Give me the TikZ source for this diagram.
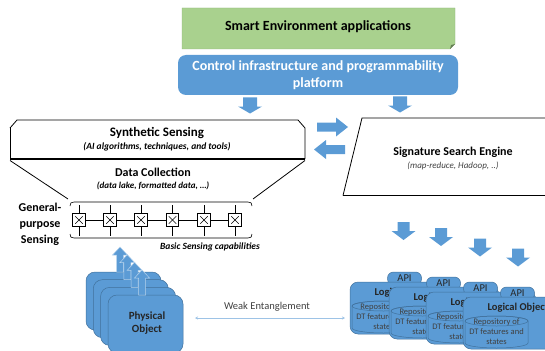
\documentclass[tikz,border=0pt]{standalone}
\usepackage{fontspec}
\setmainfont{Carlito}
\usetikzlibrary{shapes.geometric,calc,arrows.meta}
\definecolor{obl}{HTML}{5B9BD5}
\definecolor{obd}{HTML}{41719C}
\definecolor{ogr}{HTML}{A9D18E}
\definecolor{lbl}{HTML}{9DC3E6}
\definecolor{tgray}{HTML}{404040}
% block arrow: #1 name, #2 cx, #3 cy, #4 rotation, #5 length, #6 shaft half width, #7 head half width, #8 head length, #9 style
\newcommand\BArr[9]{%
  \coordinate (#1) at (#2,#3);
  \begin{scope}[shift={(#2,#3)}, rotate=#4]
    \path[#9] (-0.5*#5pt,#6pt) -- (0.5*#5pt-#8pt,#6pt) -- (0.5*#5pt-#8pt,#7pt) -- (0.5*#5pt,0pt)
      -- (0.5*#5pt-#8pt,-#7pt) -- (0.5*#5pt-#8pt,-#6pt) -- (-0.5*#5pt,-#6pt) -- cycle;
  \end{scope}}
\begin{document}
\begin{tikzpicture}[x=1pt,y=-1pt,
  barrow/.style={fill=obl},
  poarrow/.style={fill=obl, draw=white!55!obl, line width=0.5pt},
  sbox/.style={draw, line width=0.7pt, fill=white, minimum size=12.5pt, inner sep=0pt,
     path picture={\draw[line width=0.6pt] ([shift={(2.5pt,2.5pt)}]path picture bounding box.south west) -- ([shift={(-2.5pt,-2.5pt)}]path picture bounding box.north east);
                   \draw[line width=0.6pt] ([shift={(2.5pt,-2.5pt)}]path picture bounding box.north west) -- ([shift={(-2.5pt,2.5pt)}]path picture bounding box.south east);}},
  po/.style={draw=obd, line width=0.5pt, fill=obl, rounded corners=9pt, minimum width=75pt, minimum height=58pt, inner sep=0pt},
  api/.style={draw=obd, line width=0.5pt, fill=obl, rounded corners=6pt, minimum width=34pt, minimum height=13pt, inner sep=0pt,
     font=\fontsize{10.5}{11}\selectfont, text=black!85},
  lobody/.style={draw=obd, line width=0.5pt, fill=obl, rounded corners=8pt, minimum width=110pt, minimum height=52pt, inner sep=0pt},
  lotitle/.style={font=\bfseries\fontsize{10.5}{11}\selectfont, text=black!85, inner sep=0pt},
  cyltext/.style={font=\fontsize{8.5}{10}\selectfont, text=tgray, align=center, inner sep=0pt},
  subtitle/.style={font=\bfseries\itshape\fontsize{9}{10}\selectfont, inner sep=0pt}
]
\useasboundingbox (0,0) rectangle (545,350);
\clip (0,0) rectangle (545,350);
% --- Smart Environment applications
\path[fill=ogr, draw=ogr!85!black, line width=0.3pt] (182,8) -- (455,8) -- (455,44) -- (450,49) -- (182,49) -- cycle;
\path[fill=ogr!60!black] (455,44) -- (451,45) -- (450,49) -- cycle;
\node[font=\bfseries\fontsize{14}{16}\selectfont, inner sep=0pt] (app) at (318,27) {Smart Environment applications};
% --- Control platform
\node[fill=obl, rounded corners=8pt, minimum width=280pt, minimum height=40pt, inner sep=0pt] (ctrlbox) at (318,75) {};
\node[font=\bfseries\fontsize{14}{17}\selectfont, text=white, align=center, inner sep=0pt] (ctrl) at (318,75)
  {Control infrastructure and programmability\\platform};
% --- down arrows from platform
\BArr{d1}{250}{105.5}{-90}{16}{7}{12}{7}{barrow}
\BArr{d2}{400}{104.5}{-90}{16}{7}{12}{7}{barrow}
% --- Synthetic sensing
\draw[line width=0.8pt, fill=white] (10,128) -- (17,120) -- (298,120) -- (305,128) -- (305,159);
\draw[line width=0.8pt] (10,128) -- (10,159);
\draw[line width=1.8pt] (10,159) -- (305,159);
\draw[line width=0.8pt] (10,160.5) -- (68,199);
\draw[line width=0.8pt] (305,160.5) -- (253,199);
\node[font=\bfseries\fontsize{13}{15}\selectfont, inner sep=0pt] (syn) at (157,133) {Synthetic Sensing};
\node[subtitle, font=\bfseries\itshape\fontsize{9.5}{10}\selectfont] (synsub) at (157,147) {(AI algorithms, techniques, and tools)};
\node[font=\bfseries\fontsize{12}{14}\selectfont, inner sep=0pt] (dc) at (153,172) {Data Collection};
\node[subtitle] (dcsub) at (153,186) {(data lake, formatted data, \dots)};
% --- sensing array
\draw[line width=0.6pt] (70,206) .. controls (70,203) and (71,202) .. (74,202) -- (248,202) .. controls (251,202) and (252,203) .. (252,206);
\draw[line width=0.6pt] (70,234) .. controls (70,237) and (71,238) .. (74,238) -- (248,238) .. controls (251,238) and (252,237) .. (252,234);
\foreach \i/\x in {1/79,2/110,3/141,4/172.5,5/204,6/235} {
  \node[sbox] (s\i) at (\x,220) {};
  \draw[line width=0.7pt] (s\i.north) -- ++(0pt,8pt);
  \draw[line width=0.7pt] (s\i.south) -- ++(0pt,-9pt);
}
\foreach \a/\b in {1/2,2/3,3/4,4/5,5/6} { \draw[line width=0.7pt] (s\a.east) -- (s\b.west); }
\node[font=\bfseries\fontsize{12}{16}\selectfont, align=center, inner sep=0pt] (gps) at (40,224) {General-\\purpose\\Sensing};
\node[subtitle, font=\bfseries\itshape\fontsize{9.5}{10}\selectfont] (bsc) at (210,247) {Basic Sensing capabilities};
% --- bidirectional arrows
\BArr{ra}{332.5}{127}{0}{31}{4.5}{9.5}{12}{barrow}
\BArr{la}{329.5}{149.5}{180}{31}{4.5}{9.5}{12}{barrow}
% --- Signature search engine
\draw[line width=0.8pt] (560,118) -- (362,118) -- (343,195.5);
\draw[line width=1.8pt] (343,195.5) -- (560,195.5);
\node[font=\bfseries\fontsize{12}{14}\selectfont, inner sep=0pt] (sse) at (453,152) {Signature Search Engine};
\node[font=\itshape\fontsize{9}{10}\selectfont, text=tgray, inner sep=0pt] (ssesub) at (453,166) {(map-reduce, Hadoop, ..)};
% --- four down arrows
\foreach \i/\x/\y in {1/403.5/231,2/441/237,3/480/247.5,4/518/257.5} {
  \BArr{dd\i}{\x}{\y}{-90}{18}{6}{12}{9}{barrow}
}
% --- Logical objects
\foreach \i/\x/\y in {1/350/282,2/389/287,3/426/292,4/463/297} {
  \node[api] (api\i) at (\x+54.5,\y-3.5) {API};
  \node[lobody] (lo\i) at (\x+55,\y+26) {};
  \node[lotitle] (lt\i) at (\x+55,\y+11) {Logical Object};
  \path[fill=obl, draw=obd, line width=0.5pt] (\x+2,\y+24) -- (\x+2,\y+46)
     arc[start angle=180, end angle=360, x radius=31.5pt, y radius=5pt] -- (\x+65,\y+24)
     arc[start angle=0, end angle=180, x radius=31.5pt, y radius=5pt] -- cycle;
  \draw[obd, line width=0.5pt] (\x+33.5,\y+24) ellipse[x radius=31.5pt, y radius=5pt];
  \node[cyltext] (ct\i) at (\x+33.5,\y+35) {Repository of\\DT features and\\states};
}
% --- Physical objects
\foreach \i/\x/\y in {1/86/272,2/93.3/279.7,3/100.6/287.4,4/108/295} {
  \node[po] (po\i) at (\x+37.5,\y+29) {};
  \BArr{pa\i}{\x+34}{\y-12.5}{90}{25}{3.5}{7.5}{8}{poarrow}
}
\node[font=\bfseries\fontsize{11}{13}\selectfont, align=center, text=black!85, inner sep=0pt] (pot) at (147,323.5) {Physical\\Object};
% --- weak entanglement
\coordinate (we1) at (195,318);
\coordinate (we2) at (345,318);
\draw[lbl, line width=0.7pt, {Stealth[length=3pt,width=3pt]}-{Stealth[length=3pt,width=3pt]}] (we1) -- (we2);
\node[font=\fontsize{10.5}{12}\selectfont, text=tgray, inner sep=0pt] (wel) at (267,307) {Weak Entanglement};
\end{tikzpicture}
\end{document}
